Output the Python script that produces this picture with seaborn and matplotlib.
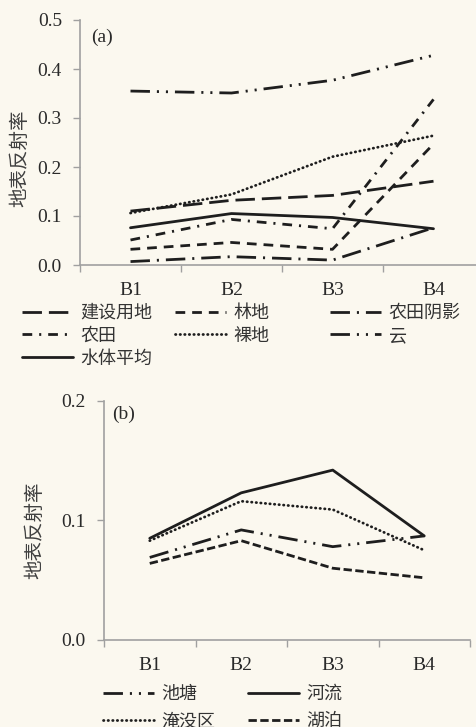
import numpy as np
import matplotlib
matplotlib.use("Agg")
import matplotlib.pyplot as plt
import seaborn as sns

# 波段
bands = ["B1", "B2", "B3", "B4"]

# (a) 各类地物地表反射率
construction = [0.110, 0.132, 0.142, 0.171]   # 建设用地
forest = [0.032, 0.046, 0.032, 0.247]         # 林地
farm_shadow = [0.007, 0.017, 0.010, 0.076]    # 农田阴影
farmland = [0.051, 0.093, 0.074, 0.338]       # 农田
bare = [0.106, 0.144, 0.221, 0.264]           # 裸地
cloud = [0.355, 0.351, 0.377, 0.428]          # 云
water_mean = [0.076, 0.105, 0.097, 0.074]     # 水体平均

# (b) 各类水体地表反射率
pond = [0.069, 0.092, 0.078, 0.087]           # 池塘
river = [0.085, 0.123, 0.142, 0.087]          # 河流
flooded = [0.083, 0.116, 0.109, 0.075]        # 淹没区
lake = [0.064, 0.083, 0.060, 0.052]           # 湖泊

W, H = 476, 727
BG = "#FBF8EF"
INK = "#1E1E1E"
SPINE = "#A0A0A0"
TXT = "#2A2A2A"
LW = 2.0

# 线型 (单位: pt)
LONG_DASH = (0, (14, 5))
DASH = (0, (7, 5))
DASH_DOT = (0, (7, 5, 1.5, 5))
LONG_DASH_DOT = (0, (14, 5, 1.5, 5))
LONG_DASH_DOT_DOT = (0, (14, 5, 1.5, 5, 1.5, 5))
ROUND_DOT = (0, (0.3, 3.0))
SHORT_DASH = (0, (6, 2.5))


def px_box(left, top, right, bottom):
    return [left / W, 1 - bottom / H, (right - left) / W, (bottom - top) / H]


def style_axis(ax, yticks):
    ax.set_facecolor(BG)
    ax.set_xlim(-0.5, 3.5)
    ax.set_ylim(yticks[0], yticks[-1])
    ax.set_yticks(yticks)
    ax.set_yticklabels([f"{t:.1f}" for t in yticks])
    ax.set_xticks(range(len(bands)))
    ax.set_xticklabels(bands)
    ax.set_xticks(np.arange(-0.5, len(bands), 1.0), minor=True)
    ax.tick_params(axis="x", which="major", length=0, pad=12, labelsize=14,
                   labelcolor=TXT, bottom=True)
    ax.tick_params(axis="x", which="minor", length=5, width=1.0, color=SPINE,
                   direction="out", bottom=True)
    ax.tick_params(axis="y", which="major", length=5, width=1.0, color=SPINE,
                   direction="out", pad=8, labelsize=14, labelcolor=TXT, left=True)
    for s in ["top", "right"]:
        ax.spines[s].set_visible(False)
    for s in ["left", "bottom"]:
        ax.spines[s].set_color(SPINE)
        ax.spines[s].set_linewidth(1.2)
    ax.set_xlabel("")
    ax.set_ylabel("")
    ax.grid(False)


def draw(ax, vals, name, ls, cap="butt"):
    sns.lineplot(x=bands, y=vals, ax=ax, color=INK, lw=LW, linestyle=ls,
                 dash_capstyle=cap, label=name, legend=False, sort=False)
    return ax.get_lines()[-1]


def column_legend(fig, handles, x, y, spacing):
    leg = fig.legend(handles=handles, labels=[h.get_label() for h in handles],
                     loc="upper left", bbox_to_anchor=(x / W, 1 - y / H),
                     frameon=False, fontsize=13, handlelength=2.85,
                     handletextpad=0.4, borderpad=0, borderaxespad=0,
                     labelspacing=spacing, labelcolor="#333333")
    return leg


def fig_text(fig, x, y, s, **kw):
    # 以像素坐标 (左上角为原点) 放置文字
    return fig.text(x / W, 1 - y / H, s, **kw)


sns.set_theme(style="white")
plt.rcParams["font.family"] = ["Liberation Serif", "Noto Sans CJK SC", "DejaVu Sans"]
plt.rcParams["lines.scale_dashes"] = False
plt.rcParams["axes.unicode_minus"] = False

fig = plt.figure(figsize=(W / 100, H / 100), dpi=100, facecolor=BG)

# ---------- (a) ----------
ax_a = fig.add_axes(px_box(80, 20, 484, 265))
h_con = draw(ax_a, construction, "建设用地", LONG_DASH)
h_for = draw(ax_a, forest, "林地", DASH)
h_fsh = draw(ax_a, farm_shadow, "农田阴影", LONG_DASH_DOT)
h_farm = draw(ax_a, farmland, "农田", DASH_DOT)
h_bare = draw(ax_a, bare, "裸地", ROUND_DOT, cap="round")
h_cloud = draw(ax_a, cloud, "云", LONG_DASH_DOT_DOT)
h_wat = draw(ax_a, water_mean, "水体平均", "-")
style_axis(ax_a, [0.0, 0.1, 0.2, 0.3, 0.4, 0.5])

column_legend(fig, [h_con, h_farm, h_wat], 22, 305, 0.32)
column_legend(fig, [h_for, h_bare], 175, 305, 0.32)
column_legend(fig, [h_fsh, h_cloud], 330, 305, 0.32)

# ---------- (b) ----------
ax_b = fig.add_axes(px_box(104, 400.7, 470, 640))
h_pond = draw(ax_b, pond, "池塘", LONG_DASH_DOT_DOT)
h_riv = draw(ax_b, river, "河流", "-")
h_fld = draw(ax_b, flooded, "淹没区", ROUND_DOT, cap="round")
h_lake = draw(ax_b, lake, "湖泊", SHORT_DASH)
style_axis(ax_b, [0.0, 0.1, 0.2])

column_legend(fig, [h_pond, h_fld], 103, 686, 0.56)
column_legend(fig, [h_riv, h_lake], 248, 686, 0.56)

# 子图编号与 y 轴标题
fig_text(fig, 91, 37, "(a)", fontsize=14, color=TXT, va="center", ha="left")
fig_text(fig, 112, 414, "(b)", fontsize=14, color=TXT, va="center", ha="left")
fig_text(fig, 20, 158, "地表反射率", rotation=90, ha="center", va="center",
         fontsize=14, color="#404040")
fig_text(fig, 35, 530, "地表反射率", rotation=90, ha="center", va="center",
         fontsize=14, color="#404040")

fig.savefig("out.png", dpi=100, facecolor=BG)
